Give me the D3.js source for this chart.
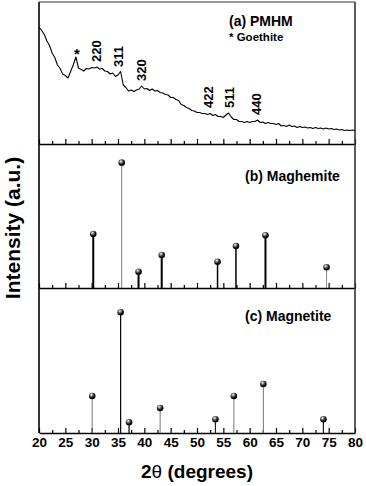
<!DOCTYPE html>
<html><head><meta charset="utf-8">
<script src="https://cdn.jsdelivr.net/npm/d3@7"></script>
<style>
html,body{margin:0;padding:0;background:#fff;}
svg{display:block;font-family:"Liberation Sans",Arial,sans-serif;}
</style></head>
<body><svg id="c" width="366" height="486"></svg>
<script>
// ---- data ----
const xTicks = [20,25,30,35,40,45,50,55,60,65,70,75,80];
const pmhmStart = 20, pmhmStep = 0.5;
const pmhmIntensity = [
117,113.5,109.5,103,98.5,91,86.5,79,75.5,70,68.5,66,72.5,79,87,76,74.5,73,75.5,75,
76.5,76,77,75,75.5,73,72.5,70,71,67.5,69,72.5,59,56.5,53,54,52.5,54,55,58,
55,55.5,53.5,55,53,53.5,51.5,51,49.5,49,46.5,46.5,44.5,43.5,39.5,38.5,36.5,35.5,33.5,33,
31.5,31.5,30.5,30.5,29.5,30.5,28.5,29.5,27.5,27.5,26.5,29,31,27,24.5,24.5,22.5,22.5,21.5,22.5,
21.5,22.5,22.5,24,21.5,22,20.5,21.5,20.5,20.5,19.5,20.5,18,18.5,17.5,19,17.5,18,16.5,17.5,
16.5,17,16,16.5,15.5,16.5,15.5,16,15,16,15,15.5,14.5,15,14,14.5,13.5,14,13.5,14,13.5];
const peakLabels = ["220","311","320","422","511","440"];
const peakLabelPos = [30.8, 35.0, 39.5, 52.1, 56.2, 61.3];
const peakLabelInt = [82, 77, 63, 36, 36, 29];
const goethitePos = 27.2, goethiteInt = 92;

const maghemitePos = [30.3, 35.7, 38.9, 43.3, 53.9, 57.4, 63.0, 74.6];
const maghemiteInt = [43.1, 100, 13.0, 26.3, 21.0, 33.5, 42.1, 16.5];
const magnetitePos = [30.1, 35.5, 37.1, 43.0, 53.5, 57.0, 62.6, 74.0];
const magnetiteInt = [30.7, 100, 8.9, 20.7, 11.4, 30.7, 40.6, 11.4];

const panelTitles = ["(a) PMHM", "(b) Maghemite", "(c) Magnetite"];
const yLabel = "Intensity (a.u.)";
const xLabel = "(degrees)";

// ---- drawing ----
const svg = d3.select("#c");
const L = 39, R = 355, T = 2, B = 433;
const x = d3.scaleLinear().domain([20,80]).range([L,R]);
const yA = d3.scaleLinear().domain([0,142]).range([144, 2]);
const yB = d3.scaleLinear().domain([0,113.3]).range([288, 146]);
const yC = d3.scaleLinear().domain([0,120.1]).range([433, 288]);

const defs = svg.append("defs");
const g = defs.append("radialGradient").attr("id","ball").attr("cx","38%").attr("cy","32%").attr("r","65%");
g.append("stop").attr("offset","0%").attr("stop-color","#fff");
g.append("stop").attr("offset","30%").attr("stop-color","#888");
g.append("stop").attr("offset","70%").attr("stop-color","#111");
g.append("stop").attr("offset","100%").attr("stop-color","#000");

// axes (ticks pointing inward/up)
function drawAxis(yPos, labels) {
  const major = d3.axisBottom(x).tickValues(xTicks).tickSizeInner(-5).tickSizeOuter(0)
    .tickFormat(labels ? d3.format("d") : "");
  const ga = svg.append("g").attr("transform",`translate(0,${yPos})`).call(major);
  ga.select(".domain").attr("stroke","#000").attr("stroke-width",1.6);
  ga.selectAll(".tick line").attr("stroke","#000").attr("stroke-width",1.2);
  ga.selectAll(".tick text").attr("font-size","13.5px").attr("font-weight","bold")
    .attr("fill","#000").attr("dy","0").attr("y",14);
  const minor = d3.axisBottom(x).tickValues(xTicks.slice(0,-1).map(v=>v+2.5))
    .tickSizeInner(-3).tickSizeOuter(0).tickFormat("");
  const gm = svg.append("g").attr("transform",`translate(0,${yPos})`).call(minor);
  gm.select(".domain").remove();
  gm.selectAll(".tick line").attr("stroke","#000").attr("stroke-width",1.2);
}
drawAxis(144, false);
drawAxis(288, false);
drawAxis(433, true);

// frame
svg.append("line").attr("x1",L).attr("x2",L).attr("y1",T).attr("y2",B).attr("stroke","#000").attr("stroke-width",1.6);
svg.append("line").attr("x1",R).attr("x2",R).attr("y1",T).attr("y2",B).attr("stroke","#333").attr("stroke-width",1.6);
svg.append("line").attr("x1",L).attr("x2",R).attr("y1",T).attr("y2",T).attr("stroke","#333").attr("stroke-width",1.2);

// panel a curve
const pts = pmhmIntensity.map((v,i)=>[pmhmStart + i*pmhmStep, v]);
svg.append("path").datum(pts)
  .attr("d", d3.line().x(d=>x(d[0])).y(d=>yA(d[1])))
  .attr("fill","none").attr("stroke","#000").attr("stroke-width",1.1).attr("stroke-linejoin","round");

// peak labels
peakLabels.forEach((t,i)=>{
  const cx = x(peakLabelPos[i]), by = yA(peakLabelInt[i]);
  svg.append("text").attr("transform",`translate(${cx+4.7},${by}) rotate(-90)`)
    .attr("font-size","13px").attr("font-weight","bold").attr("fill","#000").text(t);
});
svg.append("text").attr("x",x(goethitePos)).attr("y",yA(goethiteInt)+7)
  .attr("text-anchor","middle").attr("font-size","15px").attr("font-weight","bold").text("*");

// panel titles
svg.append("text").attr("x",229).attr("y",25.5).attr("font-size","14px").attr("font-weight","bold").text(panelTitles[0]);
svg.append("text").attr("x",229).attr("y",41).attr("font-size","11.5px").attr("font-weight","bold").text("* Goethite");
svg.append("text").attr("x",245).attr("y",181).attr("font-size","14px").attr("font-weight","bold").text(panelTitles[1]);
svg.append("text").attr("x",245).attr("y",321).attr("font-size","14px").attr("font-weight","bold").text(panelTitles[2]);

// sticks
const styleB = [[2,"#000"],[1,"#777"],[2,"#000"],[2,"#000"],[1.5,"#000"],[1.5,"#000"],[2,"#000"],[1,"#888"]];
const styleC = [[1,"#777"],[1.2,"#000"],[1.2,"#000"],[1,"#777"],[1.2,"#222"],[1,"#777"],[1,"#777"],[1.2,"#222"]];
function sticks(pos, ints, y, styles) {
  const gg = svg.append("g");
  gg.selectAll("line").data(pos).join("line")
    .attr("x1",d=>x(d)).attr("x2",d=>x(d))
    .attr("y1",y(0)).attr("y2",(d,i)=>y(ints[i]))
    .attr("stroke",(d,i)=>styles[i][1]).attr("stroke-width",(d,i)=>styles[i][0]);
  gg.selectAll("circle").data(pos).join("circle")
    .attr("cx",d=>x(d)).attr("cy",(d,i)=>y(ints[i])).attr("r",3.3)
    .attr("fill","url(#ball)");
}
sticks(maghemitePos, maghemiteInt, yB, styleB);
sticks(magnetitePos, magnetiteInt, yC, styleC);

// axis labels
svg.append("text").attr("transform","translate(20,228) rotate(-90)").attr("text-anchor","middle")
  .attr("font-size","21px").attr("font-weight","bold").text(yLabel);
const xl = svg.append("text").attr("x",197).attr("y",478).attr("text-anchor","middle")
  .attr("font-size","19px").attr("font-weight","bold");
xl.append("tspan").text("2");
xl.append("tspan").attr("font-weight","normal").text("θ");
xl.append("tspan").text(" " + xLabel);
</script>
</body></html>
